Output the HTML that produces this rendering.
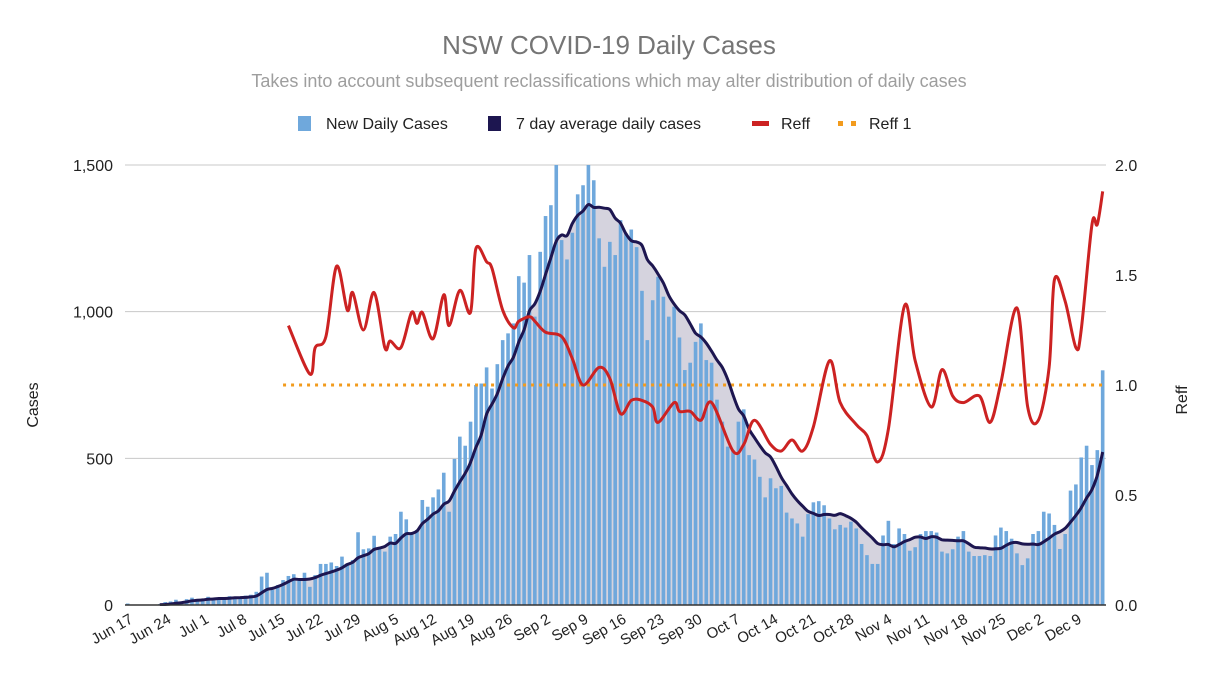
<!DOCTYPE html>
<html><head><meta charset="utf-8"><style>
html,body{margin:0;padding:0;background:#fff;}
svg{display:block;font-family:"Liberation Sans",Arial,sans-serif;}
</style></head><body>
<svg id="chart" width="1218" height="676" viewBox="0 0 1218 676">
<defs><clipPath id="plotclip"><rect x="120" y="165" width="990" height="441"/></clipPath></defs>
<text x="609" y="54" text-anchor="middle" font-size="26" fill="#757575">NSW COVID-19 Daily Cases</text>
<text x="609" y="87" text-anchor="middle" font-size="18" fill="#9e9e9e">Takes into account subsequent reclassifications which may alter distribution of daily cases</text>
<g id="legend" font-size="16" fill="#222">
 <g><rect x="298" y="116" width="13" height="15" fill="#6fa8dc"/><text x="326" y="129">New Daily Cases</text></g>
 <g><rect x="488" y="116" width="13" height="15" fill="#1d1650"/><text x="516" y="129">7 day average daily cases</text></g>
 <g><rect x="752" y="121" width="17" height="5" fill="#cc2222"/><text x="781" y="129">Reff</text></g>
 <g><rect x="838" y="121" width="5" height="5" fill="#f29b1d"/><rect x="851" y="121" width="5" height="5" fill="#f29b1d"/><text x="869" y="129">Reff 1</text></g>
</g>
<g id="grid"></g>
<g id="area" clip-path="url(#plotclip)"></g>
<g id="bars" clip-path="url(#plotclip)"></g>
<g id="lines" clip-path="url(#plotclip)"></g>
<g id="axes"></g>
<text transform="translate(38,405) rotate(-90)" text-anchor="middle" font-size="16" fill="#222">Cases</text>
<text transform="translate(1187,400) rotate(-90)" text-anchor="middle" font-size="16" fill="#222">Reff</text>
</svg>
<script>
const caseValues = [5,0,0,0,0,0,3,10,12,18,12,20,25,15,20,28,22,25,20,30,27,25,32,35,45,
97,110,51,68,85,99,105,91,110,62,102,140,140,145,133,165,142,153,248,190,193,236,195,182,233,242,318,292,244,256,358,335,367,394,451,318,498,574,543,625,750,755,
810,738,821,903,926,960,1121,1099,1193,983,1204,1326,1363,1517,1244,1178,1269,1400,1431,1517,1448,1250,1153,1238,1193,1312,1267,1280,1220,
1071,903,1039,1119,1051,983,1017,912,801,826,897,960,835,826,700,625,540,528,625,
667,511,496,437,367,432,398,406,315,295,278,233,310,350,354,340,295,258,273,264,284,261,208,170,140,140,237,287,208,261,242,185,197,242,252,252,247,182,176,190,233,252,182,167,167,170,167,237,264,252,226,176,136,159,242,252,318,312,273,191,242,390,411,503,543,477,528,800];
const reffDays = [30,34,35,37,39,41,42,44,46,48,49,51,53,54,55,57,59,60,62,64,65,67,68,70,72,73,75,76,78,81,83,85,88,90,92,94,96,98,99,102,103,105,107,109,113,115,117,120,122,124,126,128,131,133,136,138,140,142,145,147,150,152,154,156,159,161,163,166,168,170,172,173,175,177,178,180,181,182];
const reffValues = [1.27,1.05,1.17,1.22,1.54,1.34,1.42,1.25,1.42,1.17,1.20,1.17,1.33,1.28,1.33,1.21,1.41,1.27,1.43,1.33,1.62,1.56,1.53,1.34,1.26,1.29,1.31,1.29,1.24,1.22,1.12,1.00,1.08,1.03,0.87,0.93,0.93,0.90,0.83,0.92,0.88,0.88,0.84,0.92,0.70,0.73,0.84,0.73,0.70,0.75,0.70,0.81,1.11,0.92,0.82,0.77,0.65,0.80,1.36,1.11,0.90,1.07,0.95,0.92,0.95,0.83,1.01,1.35,0.90,0.84,1.08,1.48,1.38,1.17,1.25,1.73,1.73,1.88];
const reffOneValue = 1.0;
const reffOneStartDay = 29;
const caseTicks = [0,500,1000,1500];
const caseTickLabels = ["0","500","1,000","1,500"];
const reffTicks = [0,0.5,1.0,1.5,2.0];
const reffTickLabels = ["0.0","0.5","1.0","1.5","2.0"];
const dateLabels = ["Jun 17","Jun 24","Jul 1","Jul 8","Jul 15","Jul 22","Jul 29","Aug 5","Aug 12","Aug 19","Aug 26","Sep 2","Sep 9","Sep 16","Sep 23","Sep 30","Oct 7","Oct 14","Oct 21","Oct 28","Nov 4","Nov 11","Nov 18","Nov 25","Dec 2","Dec 9"];
const dateLabelStep = 7;

const NS = "http://www.w3.org/2000/svg";
const X0 = 127.7, STEP = 5.357, YB = 605, YT = 165, PL = 125, PR = 1106;
function xDay(d){ return X0 + STEP*d; }
function xLabel(d){ return 134 + 5.42*d; }
function yCases(v){ return YB - (v/1500)*(YB-YT); }
function yReff(v){ return YB - (v/2)*(YB-YT); }
function mk(tag, attrs, parent){ const e=document.createElementNS(NS,tag); for(const k in attrs) e.setAttribute(k,attrs[k]); parent.appendChild(e); return e; }

const grid = document.getElementById('grid');
const axes = document.getElementById('axes');
caseTicks.forEach((t,i)=>{
  const y=yCases(t);
  const l=mk('line',{x1:PL,x2:PR,y1:y,y2:y,stroke:i===0?'#333':'#c8c8c8','stroke-width':i===0?1.5:1},i===0?axes:grid);
  
  
  const tx=mk('text',{x:113,y:y+6,'text-anchor':'end','font-size':16,fill:'#222'},axes);
  tx.textContent=caseTickLabels[i];
  
  
});
reffTicks.forEach((t,i)=>{
  const tx=mk('text',{x:1115,y:yReff(t)+6,'text-anchor':'start','font-size':16,fill:'#222'},axes);
  tx.textContent=reffTickLabels[i];
  
  
});
dateLabels.forEach((lab,i)=>{
  const x=xLabel(i*dateLabelStep), y=622;
  const tx=mk('text',{x:x,y:y,'text-anchor':'end','font-size':15,fill:'#222',transform:`rotate(-30 ${x} ${y})`},axes);
  tx.textContent=lab;
  
  
});

const avgStart = 6;
const avgPts = [];
for(let d=avgStart; d<caseValues.length; d++){
  let s=0,n=0; for(let k=Math.max(0,d-6); k<=d; k++){ s+=caseValues[k]; n++; }
  avgPts.push([xDay(d), yCases(s/n)]);
}
function smoothPath(pts){
  let p=`M${pts[0][0].toFixed(1)},${pts[0][1].toFixed(1)}`;
  for(let i=0;i<pts.length-1;i++){
    const p0=pts[Math.max(0,i-1)],p1=pts[i],p2=pts[i+1],p3=pts[Math.min(pts.length-1,i+2)];
    const c1=[p1[0]+(p2[0]-p0[0])/6, p1[1]+(p2[1]-p0[1])/6];
    const c2=[p2[0]-(p3[0]-p1[0])/6, p2[1]-(p3[1]-p1[1])/6];
    p+=` C${c1[0].toFixed(1)},${c1[1].toFixed(1)} ${c2[0].toFixed(1)},${c2[1].toFixed(1)} ${p2[0].toFixed(1)},${p2[1].toFixed(1)}`;
  }
  return p;
}
const avgD = smoothPath(avgPts);
const area = mk('path',{d: avgD + ` L${avgPts[avgPts.length-1][0].toFixed(1)},${YB} L${avgPts[0][0].toFixed(1)},${YB} Z`, fill:'#d5d3de'}, document.getElementById('area'));



const barsG = document.getElementById('bars');
caseValues.forEach((v,d)=>{
  if(v<=0) return;
  const y=yCases(v);
  const b=mk('rect',{x:(xDay(d)-1.8).toFixed(2),y:y.toFixed(2),width:3.6,height:(YB-y).toFixed(2),fill:'#6fa8dc'},barsG);
  
  
});

const linesG = document.getElementById('lines');
const ro = mk('line',{x1:xDay(reffOneStartDay),x2:xDay(caseValues.length-1),y1:yReff(reffOneValue),y2:yReff(reffOneValue),stroke:'#f29b1d','stroke-width':3,'stroke-dasharray':'3 5'},linesG);



const avgLine = mk('path',{d:avgD,fill:'none',stroke:'#1d1650','stroke-width':3,'stroke-linejoin':'round'},linesG);



const reffPts = reffDays.map((d,i)=>[xDay(d), yReff(reffValues[i])]);
const reffLine = mk('path',{d:smoothPath(reffPts),fill:'none',stroke:'#cc2222','stroke-width':3,'stroke-linejoin':'round'},linesG);


</script>
</body></html>
